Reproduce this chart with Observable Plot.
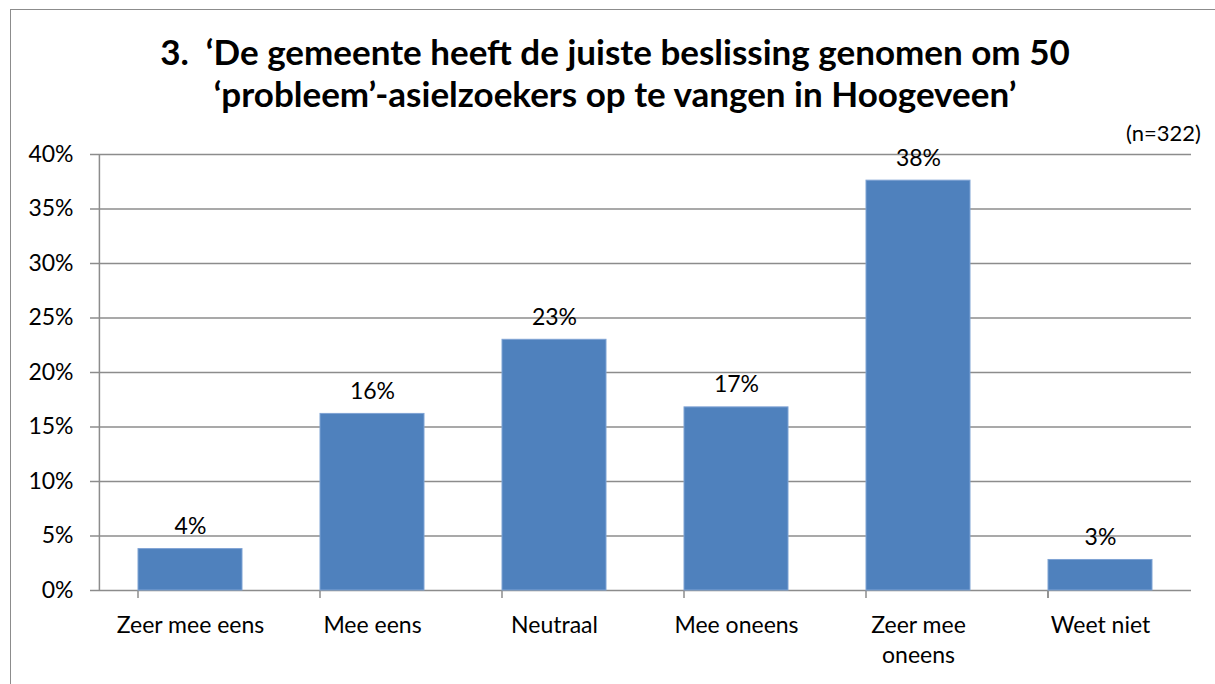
<!DOCTYPE html>
<html><head><meta charset="utf-8">
<script src="https://cdn.jsdelivr.net/npm/d3@7"></script>
<script src="https://cdn.jsdelivr.net/npm/@observablehq/plot@0.6"></script>
<style>
html,body{margin:0;padding:0;background:#fff;}
#wrap{position:relative;width:1215px;height:684px;overflow:hidden;font-family:Lato,"Noto Sans",sans-serif;color:#000;}
#frame{position:absolute;left:10px;top:9px;width:1300px;height:800px;border:1.5px solid #8c8c8c;box-sizing:border-box;z-index:3;pointer-events:none;}
#title{position:absolute;left:0;top:30px;width:1230px;text-align:center;font-weight:bold;font-size:35px;line-height:42px;z-index:2;}
#n{position:absolute;right:14px;top:119px;font-size:22px;z-index:2;}
#chart{position:absolute;left:0;top:130px;z-index:1;}
</style></head>
<body><div id="wrap"><div id="frame"></div>
<div id="title">3.&nbsp; ‘De gemeente heeft de juiste beslissing genomen om 50<br>‘probleem’-asielzoekers op te vangen in Hoogeveen’</div>
<div id="n">(n=322)</div>
<div id="chart"></div></div>
<script>
const categories = ["Zeer mee eens","Mee eens","Neutraal","Mee oneens","Zeer mee\noneens","Weet niet"];
const values = [3.8, 16.2, 23.0, 16.8, 37.6, 2.8];
const yTicks = [0,5,10,15,20,25,30,35,40];

const data = categories.map((c,i)=>({cat:c, v:values[i]}));
const W = 1215, H = 554, mL = 98, mR = 24, mT = 24, mB = 94;
const step = (W - mL - mR) / categories.length;
const bounds = categories.map((c,i)=>({cat:c, dx:-step/2})).concat([{cat:categories[categories.length-1], dx:step/2}]);
const grid = "#8c8c8c";

const chart = Plot.plot({
  width: W, height: H,
  marginLeft: mL, marginRight: mR, marginTop: mT, marginBottom: mB,
  style: {fontFamily: "Lato, 'Noto Sans', sans-serif", fontSize: "23px", color: "#000", background: "transparent", overflow: "visible"},
  x: {domain: categories, paddingInner: 0.43, paddingOuter: 0.215, label: null},
  y: {domain: [0, 40], label: null},
  marks: [
    Plot.ruleY(yTicks, {y: d=>d, stroke: grid, strokeWidth: 1.5, strokeOpacity: 1}),
    Plot.axisY({ticks: yTicks, tickFormat: d=>d+"%", tickSize: 8, tickPadding: 17, stroke: grid, strokeWidth: 1.5, strokeOpacity: 1, fill: "#000", fontSize: 23, label: null}),
    Plot.ruleX([0], {x: ()=>categories[0], dx: -step/2, y1: 0, y2: 40, stroke: grid, strokeWidth: 1.5}),
    Plot.ruleX(bounds, {x: "cat", dx: b=>b.dx, y1: 0, y2: 0, insetBottom: -8, stroke: grid, strokeWidth: 1.5}),
    Plot.barY(data, {x: "cat", y: "v", fill: "#4f81bd", stroke: "#7fa3d4", strokeWidth: 1}),
    Plot.text(data, {x: "cat", y: "v", text: d=>Math.round(d.v)+"%", lineAnchor: "bottom", dy: -15, fontSize: 23, fill: "#000"}),
    Plot.axisX({tickSize: 0, tickPadding: 21, fontSize: 23, fill: "#000", lineHeight: 1.3, label: null})
  ]
});
document.getElementById("chart").appendChild(chart);
</script></body></html>
